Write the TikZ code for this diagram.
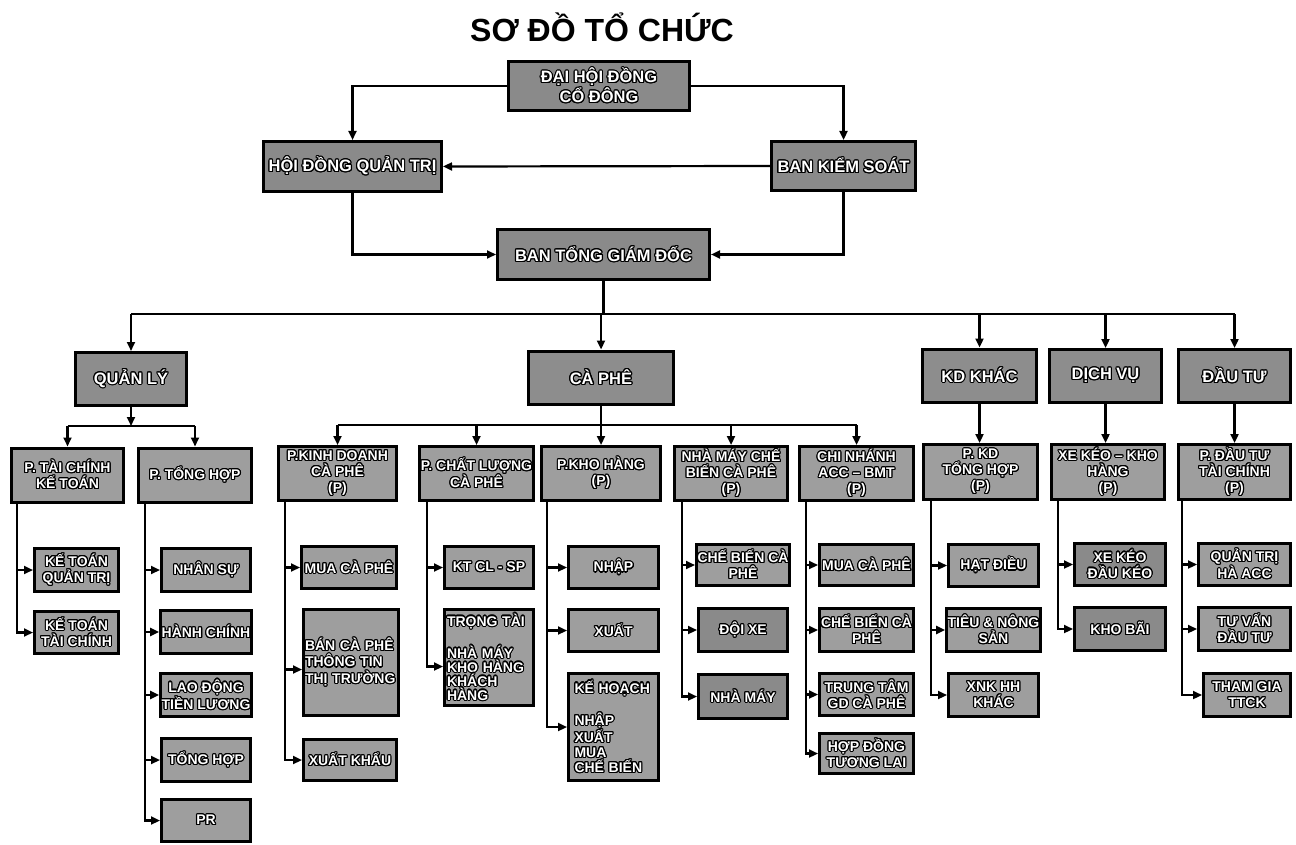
\documentclass[tikz,border=0pt]{standalone}
\usepackage{fontspec}
\setmainfont{Liberation Sans}
\usepackage{contour}
\contourlength{1.1pt}
\usetikzlibrary{arrows.meta}
\definecolor{topgray}{HTML}{8A8A8A}
\definecolor{boxgray}{HTML}{9E9E9E}
\newcommand\ct[1]{\contour{black}{#1}}
\begin{document}
\begin{tikzpicture}[x=1pt,y=-1pt,
  box/.style={draw=black, line width=3pt, fill=boxgray, text=white, inner sep=1pt,
    align=center, font=\bfseries\fontsize{14}{16}\selectfont},
  topbox/.style={box, fill=topgray, font=\bfseries\fontsize{16.5}{18.5}\selectfont},
  midbox/.style={box, fill=topgray!85!boxgray, font=\bfseries\fontsize{16.5}{18.5}\selectfont},
  sz/.style 2 args={minimum width=#1pt, minimum height=#2pt},
  conn/.style={line width=2.2pt, draw=black},
  arr/.style={conn, -{Triangle[length=9pt,width=8pt]}},
  titlestyle/.style={font=\bfseries\fontsize{32}{36}\selectfont, text=black, inner sep=0pt}]
\useasboundingbox (0,0) rectangle (1296,845);
\fill[white] (0,0) rectangle (1296,845);

\node[titlestyle, anchor=base] (title) at (602,42) {SƠ ĐỒ TỔ CHỨC};

% top level
\node[topbox, sz={181}{49}] (dhd) at (599,86) {\ct{ĐẠI HỘI ĐỒNG}\\\ct{CỔ ĐÔNG}};
\node[topbox, sz={178}{50}] (hdqt) at (352.5,166.5) {\ct{HỘI ĐỒNG QUẢN TRỊ}};
\node[topbox, sz={144}{49}] (bks) at (843.5,166) {\ct{BAN KIỂM SOÁT}};
\node[topbox, sz={212}{50}] (btgd) at (603.5,254.5) {\ct{BAN TỔNG GIÁM ĐỐC}};

\draw[arr] (dhd.west) -| (hdqt.north);
\draw[arr] (dhd.east) -| (bks.north);
\draw[arr] (bks.west) -- (hdqt.east);
\draw[arr] (hdqt.south) |- (btgd.west);
\draw[arr] (bks.south) |- (btgd.east);

% level 2
\node[midbox, sz={111}{53}] (ql) at (131,379) {\ct{QUẢN LÝ}};
\node[midbox, sz={145}{53}] (cp) at (601,377.5) {\ct{CÀ PHÊ}};
\node[midbox, sz={114}{53}] (kdk) at (979.5,375.5) {\ct{KD KHÁC}};
\node[midbox, sz={112}{53}] (dv) at (1105.5,376) {\ct{DỊCH VỤ}};
\node[midbox, sz={112}{53}] (dt) at (1234.5,376) {\ct{ĐẦU TƯ}};

\coordinate (b1) at (601,314);
\draw[conn] (btgd.south) -- (btgd.south |- b1);
\draw[conn] (ql.north |- b1) -- (dt.north |- b1);
\foreach \n in {ql,cp,kdk,dv,dt} \draw[arr] (\n.north |- b1) -- (\n.north);

% level 3
\node[box, sz={112}{54}] (tckt) at (67.5,475) {\ct{P. TÀI CHÍNH}\\\ct{KẾ TOÁN}};
\node[box, sz={113}{54}] (pth) at (195,475) {\ct{P. TỔNG HỢP}};
\node[box, sz={118}{54}] (kdcp) at (337.5,473.5) {\ct{P.KINH DOANH}\\\ct{CÀ PHÊ}\\\ct{(P)}};
\node[box, sz={114}{54}] (clcp) at (476.5,473.5) {\ct{P. CHẤT LƯỢNG}\\\ct{CÀ PHÊ}};
\node[box, sz={119}{54}] (kho) at (601,473.5) {\ct{P.KHO HÀNG}\\\ct{(P)}};
\node[box, sz={113}{54}] (nmcb) at (731,473.5) {\ct{NHÀ MÁY CHẾ}\\\ct{BIẾN CÀ PHÊ}\\\ct{(P)}};
\node[box, sz={114}{54}] (cn) at (856.5,473.5) {\ct{CHI NHÁNH}\\\ct{ACC – BMT}\\\ct{(P)}};
\node[box, sz={114}{55}] (pkd) at (980.5,472) {\ct{P. KD}\\\ct{TỔNG HỢP}\\\ct{(P)}};
\node[box, sz={113}{55}] (xkk) at (1108,472) {\ct{XE KÉO – KHO}\\\ct{HÀNG}\\\ct{(P)}};
\node[box, sz={112}{55}] (pdt) at (1234.5,472) {\ct{P. ĐẦU TƯ}\\\ct{TÀI CHÍNH}\\\ct{(P)}};

\coordinate (b2) at (131,426);
\draw[arr] (ql.south) -- (ql.south |- b2);
\draw[conn] (tckt.north |- b2) -- (pth.north |- b2);
\foreach \n in {tckt,pth} \draw[arr] (\n.north |- b2) -- (\n.north);

\coordinate (b3) at (601,425);
\draw[conn] (cp.south) -- (cp.south |- b3);
\draw[conn] (kdcp.north |- b3) -- (cn.north |- b3);
\foreach \n in {kdcp,clcp,kho,nmcb,cn} \draw[arr] (\n.north |- b3) -- (\n.north);

\draw[arr] (kdk.south) -- (kdk.south |- pkd.north);
\draw[arr] (dv.south) -- (dv.south |- xkk.north);
\draw[arr] (dt.south) -- (dt.south |- pdt.north);

% leaves
\node[box, sz={84}{43}] (ktqt) at (76.5,570) {\ct{KẾ TOÁN}\\\ct{QUẢN TRỊ}};
\node[box, sz={84}{42}] (kttc) at (76.5,632.5) {\ct{KẾ TOÁN}\\\ct{TÀI CHÍNH}};

\node[box, sz={89}{43}] (ns) at (206,570) {\ct{NHÂN SỰ}};
\node[box, sz={89}{43}] (hc) at (206,632) {\ct{HÀNH CHÍNH}};
\node[box, sz={89}{43}] (ldtl) at (206,695) {\ct{LAO ĐỘNG}\\\ct{TIỀN LƯƠNG}};
\node[box, sz={89}{43}] (th) at (206,760) {\ct{TỔNG HỢP}};
\node[box, sz={89}{42}] (pr) at (206,820.5) {\ct{PR}};

\node[box, sz={95}{42}] (mua1) at (349,567.5) {\ct{MUA CÀ PHÊ}};
\node[box, sz={95}{106}, text width=92pt, align=left, font=\bfseries\fontsize{14}{16.5}\selectfont] (ban) at (351,662.5) {\ct{BÁN CÀ PHÊ}\\\ct{THÔNG TIN}\\\ct{THỊ TRƯỜNG}};
\node[box, sz={93}{41}] (xk) at (350,760) {\ct{XUẤT KHẨU}};

\node[box, sz={89}{42}] (ktcl) at (489,567.5) {\ct{KT CL - SP}};
\node[box, sz={89}{96}, text width=84pt, align=left, font=\bfseries\fontsize{14}{14}\selectfont] (tt) at (489,657.5) {\ct{TRỌNG TÀI}\\[15pt]\ct{NHÀ MÁY}\\\ct{KHO HÀNG}\\\ct{KHÁCH}\\\ct{HÀNG}};

\node[box, sz={90}{42}] (nhap) at (613.5,567.5) {\ct{NHẬP}};
\node[box, sz={90}{42}] (xuat) at (613.5,630.5) {\ct{XUẤT}};
\node[box, sz={90}{107}, text width=78pt, align=left, font=\bfseries\fontsize{14}{15}\selectfont] (kh) at (613.5,727) {\ct{KẾ HOẠCH}\\[15pt]\ct{NHẬP}\\\ct{XUẤT}\\\ct{MUA}\\\ct{CHẾ BIẾN}};

\node[box, sz={89}{41}] (cbcp1) at (743,565) {\ct{CHẾ BIẾN CÀ}\\\ct{PHÊ}};
\node[box, sz={89}{43}, fill=topgray] (dx) at (743,630) {\ct{ĐỘI XE}};
\node[box, sz={89}{44}, fill=topgray] (nm) at (743,696.5) {\ct{NHÀ MÁY}};

\node[box, sz={94}{41}] (mua2) at (866.5,565) {\ct{MUA CÀ PHÊ}};
\node[box, sz={94}{43}] (cbcp2) at (866.5,630) {\ct{CHẾ BIẾN CÀ}\\\ct{PHÊ}};
\node[box, sz={94}{42}] (ttgd) at (866.5,694.5) {\ct{TRUNG TÂM}\\\ct{GD CÀ PHÊ}};
\node[box, sz={94}{40}] (hdtl) at (866.5,753.5) {\ct{HỢP ĐỒNG}\\\ct{TƯƠNG LAI}};

\node[box, sz={90}{42}] (hd) at (993.5,565.5) {\ct{HẠT ĐIỀU}};
\node[box, sz={90}{43}] (tns) at (993.5,630) {\ct{TIÊU \& NÔNG}\\\ct{SẢN}};
\node[box, sz={90}{43}] (xnk) at (993.5,695) {\ct{XNK HH}\\\ct{KHÁC}};

\node[box, sz={91}{42}, fill=topgray] (xkdk) at (1120,564.5) {\ct{XE KÉO}\\\ct{ĐẦU KÉO}};
\node[box, sz={91}{43}, fill=topgray] (kb) at (1120,629) {\ct{KHO BÃI}};

\node[box, sz={92}{42}] (qtha) at (1244.5,564.5) {\ct{QUẢN TRỊ}\\\ct{HÀ ACC}};
\node[box, sz={92}{43}] (tvdt) at (1244.5,629) {\ct{TƯ VẤN}\\\ct{ĐẦU TƯ}};
\node[box, sz={87}{43}] (tgtt) at (1247,695) {\ct{THAM GIA}\\\ct{TTCK}};

% spines
\foreach \c in {ktqt,kttc} \draw[arr] ([xshift=7pt]tckt.south west) |- (\c.west);
\foreach \c in {ns,hc,ldtl,th,pr} \draw[arr] ([xshift=8pt]pth.south west) |- (\c.west);
\foreach \c in {mua1,xk} \draw[arr] ([xshift=8pt]kdcp.south west) |- (\c.west);
\draw[arr] ([xshift=8pt]kdcp.south west) |- ([yshift=-7pt]ban.west);
\draw[arr] ([xshift=9pt]clcp.south west) |- (ktcl.west);
\draw[arr] ([xshift=9pt]clcp.south west) |- ([yshift=-9pt]tt.west);
\foreach \c in {nhap,xuat,kh} \draw[arr] ([xshift=7pt]kho.south west) |- (\c.west);
\foreach \c in {cbcp1,dx,nm} \draw[arr] ([xshift=9pt]nmcb.south west) |- (\c.west);
\foreach \c in {mua2,cbcp2,ttgd,hdtl} \draw[arr] ([xshift=8pt]cn.south west) |- (\c.west);
\foreach \c in {hd,tns,xnk} \draw[arr] ([xshift=9pt]pkd.south west) |- (\c.west);
\foreach \c in {xkdk,kb} \draw[arr] ([xshift=8pt]xkk.south west) |- (\c.west);
\foreach \c in {qtha,tvdt,tgtt} \draw[arr] ([xshift=5pt]pdt.south west) |- (\c.west);
\end{tikzpicture}
\end{document}
